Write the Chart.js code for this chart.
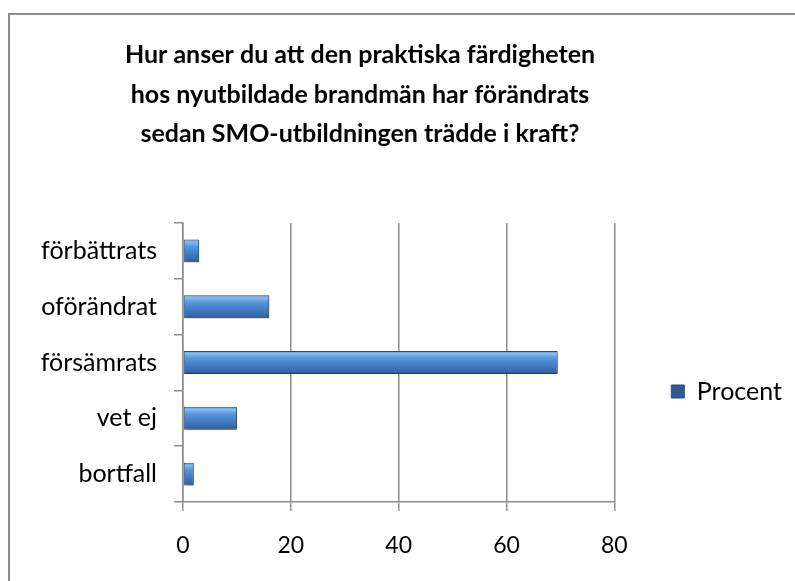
<!DOCTYPE html>
<html>
<head>
<meta charset="utf-8">
<script src="https://cdn.jsdelivr.net/npm/chart.js@4.4.1/dist/chart.umd.min.js"></script>
<style>
  html, body { margin: 0; padding: 0; background: #ffffff; }
  canvas { display: block; }
</style>
</head>
<body>
<canvas id="c" width="795" height="581"></canvas>
<script>
// ---- data ----
const titleLines = [
  'Hur anser du att den praktiska färdigheten',
  'hos nyutbildade brandmän har förändrats',
  'sedan SMO-utbildningen trädde i kraft?'
];
const categories = ['förbättrats', 'oförändrat', 'försämrats', 'vet ej', 'bortfall'];
const seriesName = 'Procent';
const procent = [3, 16, 69.5, 10, 2];
const xTicks = [0, 20, 40, 60, 80];

const BAR_FRACTION = 0.5 * 0.82;

function barFill(c) {
  const chart = c.chart;
  const ys = chart.scales && chart.scales.y;
  if (!chart.chartArea || !ys || c.type !== 'data') return '#3f79c2';
  const yc = ys.getPixelForValue(c.dataIndex);
  const h = ys.height / categories.length * BAR_FRACTION;
  const g = chart.ctx.createLinearGradient(0, yc - h / 2, 0, yc + h / 2);
  g.addColorStop(0, '#5f98dc');
  g.addColorStop(0.12, '#86bbf0');
  g.addColorStop(0.3, '#5a96dc');
  g.addColorStop(0.55, '#4682cb');
  g.addColorStop(0.8, '#3a6fb3');
  g.addColorStop(1, '#2d5b96');
  return g;
}

const framePlugin = {
  id: 'frame',
  beforeDraw(chart) {
    const ctx = chart.ctx;
    ctx.save();
    ctx.fillStyle = '#ffffff';
    ctx.fillRect(0, 0, chart.width, chart.height);
    ctx.strokeStyle = '#8c8c8c';
    ctx.lineWidth = 2;
    ctx.beginPath();
    ctx.moveTo(chart.width, 14);
    ctx.lineTo(9, 14);
    ctx.lineTo(9, chart.height);
    ctx.stroke();
    ctx.restore();
  },
  afterDraw(chart) {
    const ctx = chart.ctx;
    ctx.save();
    ctx.fillStyle = '#000000';
    ctx.font = 'bold 25px Lato';
    ctx.textAlign = 'center';
    ctx.textBaseline = 'alphabetic';
    const baselines = [63, 103, 142];
    titleLines.forEach((t, i) => ctx.fillText(t, 360, baselines[i]));
    ctx.restore();
  }
};

const shadowPlugin = {
  id: 'barShadow',
  beforeDatasetsDraw(chart) {
    const ctx = chart.ctx;
    ctx.save();
    ctx.shadowColor = 'rgba(0,0,0,0.35)';
    ctx.shadowBlur = 4;
    ctx.shadowOffsetX = 2;
    ctx.shadowOffsetY = 2;
  },
  afterDatasetsDraw(chart) {
    chart.ctx.restore();
  }
};

new Chart(document.getElementById('c'), {
  type: 'bar',
  data: {
    labels: categories,
    datasets: [{
      label: seriesName,
      data: procent,
      backgroundColor: barFill,
      borderColor: '#2a4f80',
      borderWidth: 1,
      borderSkipped: false,
      barPercentage: 0.5,
      categoryPercentage: 0.82
    }]
  },
  plugins: [framePlugin, shadowPlugin],
  options: {
    indexAxis: 'y',
    responsive: false,
    devicePixelRatio: 1,
    animation: false,
    layout: { padding: { top: 223, left: 10, right: 3, bottom: 21 } },
    plugins: {
      title: { display: false },
      tooltip: { enabled: false },
      legend: {
        display: true,
        position: 'right',
        align: 'center',
        labels: {
          boxWidth: 13,
          boxHeight: 13,
          padding: 57,
          color: '#000000',
          font: { family: 'Lato', size: 25 }
        }
      }
    },
    scales: {
      x: {
        type: 'linear',
        min: xTicks[0],
        max: xTicks[xTicks.length - 1],
        afterBuildTicks(scale) { scale.ticks = xTicks.map(v => ({ value: v })); },
        afterFit(scale) { scale.height = 58; },
        grid: {
          color: '#8c8c8c',
          lineWidth: 1.5,
          drawTicks: true,
          tickLength: 9,
          tickColor: '#8c8c8c'
        },
        border: { display: true, color: '#8c8c8c', width: 1.5 },
        ticks: {
          color: '#000000',
          padding: 21,
          font: { family: 'Lato', size: 23 }
        }
      },
      y: {
        type: 'category',
        afterFit(scale) { scale.width = 173; },
        grid: {
          offset: true,
          drawOnChartArea: false,
          drawTicks: true,
          tickLength: 9,
          tickColor: '#8c8c8c',
          lineWidth: 1.5
        },
        border: { display: true, color: '#8c8c8c', width: 1.5 },
        ticks: {
          color: '#000000',
          padding: 17,
          font: { family: 'Lato', size: 25 }
        }
      }
    }
  }
});
</script>
</body>
</html>
